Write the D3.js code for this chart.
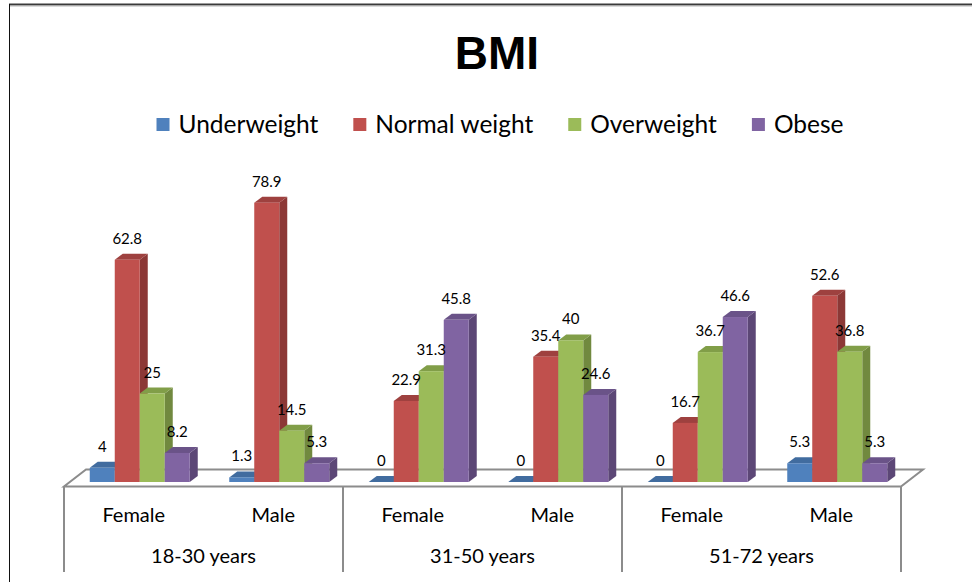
<!DOCTYPE html>
<html>
<head>
<meta charset="utf-8">
<script src="https://cdn.jsdelivr.net/npm/d3@7"></script>
<style>
  html, body { margin: 0; padding: 0; background: #fff; }
  svg { display: block; }
  text { font-family: Lato, "Open Sans", "Liberation Sans", sans-serif; fill: #000; }
</style>
</head>
<body>
<svg id="chart" width="972" height="582"></svg>
<script>
// BMI distribution (%) by age group and sex
const ageGroups = ["18-30 years", "31-50 years", "51-72 years"];
const sexes = ["Female", "Male"];
const seriesNames = ["Underweight", "Normal weight", "Overweight", "Obese"];
const seriesColors = ["#4F81BD", "#C0504D", "#9BBB59", "#8064A2"];
const sideColors = ["#385D8A", "#8C3836", "#71893F", "#5C4776"];
const topColors = ["#416C9F", "#9E413F", "#819E48", "#6A5388"];

// one value per series, for each age group / sex pair (in order)
const underweight = [4, 1.3, 0, 0, 0, 5.3];
const normalWeight = [62.8, 78.9, 22.9, 35.4, 16.7, 52.6];
const overweight = [25, 14.5, 31.3, 40, 36.7, 36.8];
const obese = [8.2, 5.3, 45.8, 24.6, 46.6, 5.3];
const seriesValues = [underweight, normalWeight, overweight, obese];

const svg = d3.select("#chart");

// frame
svg.append("line").attr("x1", 9).attr("x2", 972).attr("y1", 4.5).attr("y2", 4.5)
  .attr("stroke", "#3a3a3a").attr("stroke-width", 2);
svg.append("line").attr("x1", 9).attr("x2", 972).attr("y1", 6).attr("y2", 6)
  .attr("stroke", "#b5b5b5").attr("stroke-width", 1);
svg.append("line").attr("x1", 9.5).attr("x2", 9.5).attr("y1", 4).attr("y2", 582)
  .attr("stroke", "#111").attr("stroke-width", 1);

// title
svg.append("text").attr("x", 497).attr("y", 69).attr("text-anchor", "middle")
  .style("font-family", "'Liberation Sans', Arial, sans-serif")
  .style("font-weight", "bold").style("font-size", "46px").text("BMI");

// legend, laid out from measured text widths and centred
const legend = svg.append("g").attr("class", "legend");
const items = legend.selectAll("g").data(seriesNames).join("g");
items.append("rect").attr("width", 13).attr("height", 13).attr("y", 118)
  .attr("fill", (d, i) => seriesColors[i]);
items.append("text").attr("y", 133).style("font-size", "24.5px").text(d => d);
let widths = [];
items.select("text").each(function () { widths.push(this.getComputedTextLength()); });
const sq = 13, gapIn = 9, gapOut = 35;
const total = d3.sum(widths) + seriesNames.length * (sq + gapIn) + (seriesNames.length - 1) * gapOut;
let cx = 500 - total / 2;
items.each(function (d, i) {
  const g = d3.select(this);
  g.select("rect").attr("x", cx);
  g.select("text").attr("x", cx + sq + gapIn);
  cx += sq + gapIn + widths[i] + gapOut;
});

// 3D layout
const frontY = 486.5;        // floor front edge
const floorDepth = [22, -17]; // floor back offset
const baseY = 482;           // bar front-bottom
const barShift = 6;          // bars sit slightly back on the floor
const barDepth = [8, -6];    // bar side/top offset

const categories = [];
ageGroups.forEach(a => sexes.forEach(s => categories.push(a + "|" + s)));

const x = d3.scaleBand().domain(categories).range([64, 901]).paddingInner(0).paddingOuter(0);
const inner = d3.scaleBand().domain(seriesNames).range([0, 100]);
const y = d3.scaleLinear().domain([0, 100]).range([baseY, baseY - 354]);

// floor
const fx0 = x.range()[0], fx1 = x.range()[1];
svg.append("path")
  .attr("d", `M${fx0},${frontY}L${fx1},${frontY}L${fx1 + floorDepth[0]},${frontY + floorDepth[1]}L${fx0 + floorDepth[0]},${frontY + floorDepth[1]}Z`)
  .attr("fill", "#fff").attr("stroke", "#8c8c8c").attr("stroke-width", 2).attr("stroke-linejoin", "miter");

// category axis: group separators
const groupEdges = [0, 2, 4, 6].map(i => i < 6 ? x(categories[i]) : fx1);
svg.selectAll("line.sep").data(groupEdges).join("line").attr("class", "sep")
  .attr("x1", d => d).attr("x2", d => d).attr("y1", frontY).attr("y2", 572)
  .attr("stroke", "#8c8c8c").attr("stroke-width", 2);

// bars
const bars = [];
categories.forEach((c, ci) => {
  seriesNames.forEach((s, si) => {
    bars.push({ c, si, v: seriesValues[si][ci] });
  });
});

const barG = svg.append("g");
categories.forEach(c => {
  const start = x(c) + (x.bandwidth() - inner.range()[1]) / 2 + barShift;
  bars.filter(b => b.c === c).forEach(b => {
    const x0 = start + inner(seriesNames[b.si]);
    const w = inner.bandwidth();
    const yt = y(b.v);
    const [dx, dy] = barDepth;
    const g = barG.append("g");
    // side face
    g.append("path").attr("d", `M${x0 + w},${baseY}L${x0 + w + dx},${baseY + dy}L${x0 + w + dx},${yt + dy}L${x0 + w},${yt}Z`)
      .attr("fill", sideColors[b.si]);
    // top face
    g.append("path").attr("d", `M${x0},${yt}L${x0 + w},${yt}L${x0 + w + dx},${yt + dy}L${x0 + dx},${yt + dy}Z`)
      .attr("fill", topColors[b.si]);
    // front face
    g.append("rect").attr("x", x0).attr("y", yt).attr("width", w).attr("height", baseY - yt)
      .attr("fill", seriesColors[b.si]);
    b.lx = x0 + w / 2;
    b.ly = yt - 16;
  });
});

// value labels
svg.append("g").selectAll("text").data(bars).join("text")
  .attr("x", d => d.lx).attr("y", d => d.ly).attr("text-anchor", "middle")
  .style("font-size", "15px").text(d => d.v);

// category labels
svg.append("g").selectAll("text").data(categories).join("text")
  .attr("x", d => x(d) + x.bandwidth() / 2).attr("y", 522).attr("text-anchor", "middle")
  .style("font-size", "20px").text(d => d.split("|")[1]);

svg.append("g").selectAll("text").data(ageGroups).join("text")
  .attr("x", (d, i) => (groupEdges[i] + groupEdges[i + 1]) / 2).attr("y", 563).attr("text-anchor", "middle")
  .style("font-size", "20px").text(d => d);
</script>
</body>
</html>
